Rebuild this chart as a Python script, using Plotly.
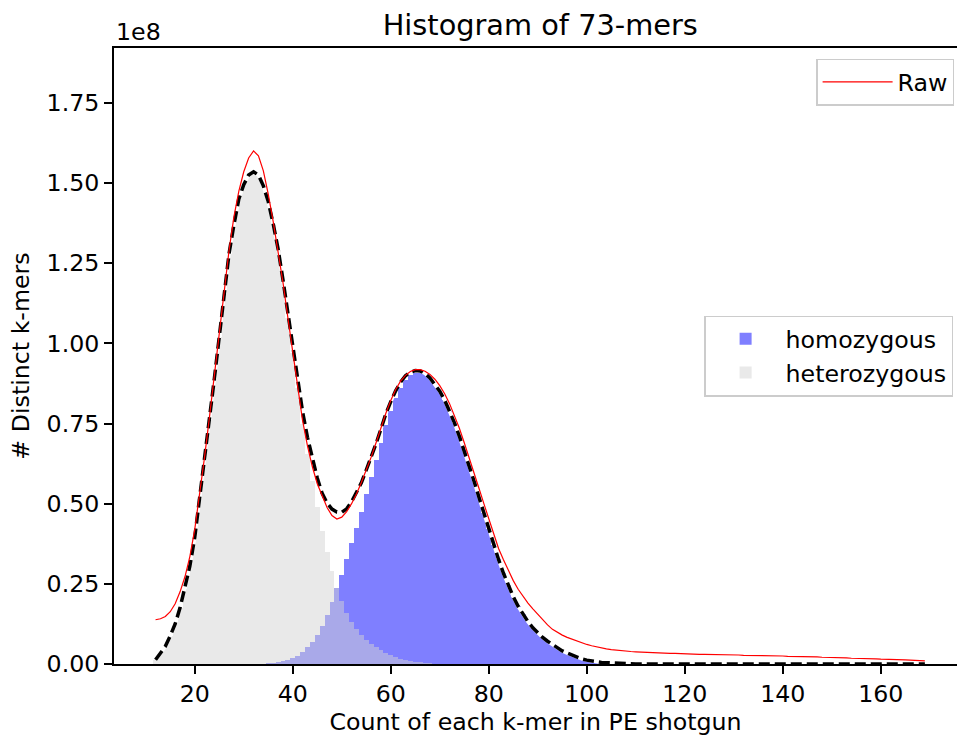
import numpy as np
import plotly.graph_objects as go

# ---------------- data (values in units of 1e8 distinct k-mers) ----------------
COUNTS = list(range(12, 170))          # k-mer multiplicity for the curves
HET_COUNTS = list(range(12, 71))       # bins of the heterozygous histogram
HOM_COUNTS = list(range(34, 109))      # bins of the homozygous histogram

HETEROZYGOUS = [
    0.013, 0.033, 0.055, 0.088, 0.125, 0.175, 0.235, 0.305, 0.395, 0.515,   # 12-21
    0.635, 0.760, 0.890, 1.020, 1.155, 1.280, 1.370, 1.450, 1.495, 1.525,   # 22-31
    1.535, 1.525, 1.490, 1.440, 1.370, 1.290, 1.190, 1.080, 0.970, 0.860,   # 32-41
    0.750, 0.655, 0.570, 0.490, 0.415, 0.350, 0.290, 0.237, 0.195, 0.158,   # 42-51
    0.130, 0.108, 0.090, 0.075, 0.063, 0.052, 0.043, 0.035, 0.028, 0.022,   # 52-61
    0.017, 0.013, 0.010, 0.007, 0.005, 0.003, 0.002, 0.001, 0.0005,         # 62-70
]

HOMOZYGOUS = [
    0.001, 0.002, 0.003, 0.005, 0.008, 0.012, 0.018, 0.026, 0.037, 0.052,   # 34-43
    0.070, 0.090, 0.117, 0.152, 0.193, 0.237, 0.278, 0.326, 0.376, 0.425,   # 44-53
    0.475, 0.530, 0.582, 0.635, 0.690, 0.745, 0.790, 0.830, 0.862, 0.886,   # 54-63
    0.900, 0.908, 0.909, 0.903, 0.890, 0.872, 0.850, 0.823, 0.790, 0.752,   # 64-73
    0.710, 0.665, 0.618, 0.570, 0.520, 0.470, 0.420, 0.372, 0.326, 0.283,   # 74-83
    0.245, 0.210, 0.180, 0.155, 0.132, 0.113, 0.097, 0.083, 0.071, 0.060,   # 84-93
    0.050, 0.041, 0.034, 0.027, 0.021, 0.016, 0.012, 0.009, 0.007, 0.005,   # 94-103
    0.004, 0.003, 0.002, 0.001, 0.001,                                      # 104-108
]

RAW = [
    0.138, 0.141, 0.148, 0.163, 0.188, 0.225, 0.272, 0.335, 0.420, 0.530,   # 12-21
    0.645, 0.770, 0.900, 1.035, 1.165, 1.290, 1.395, 1.475, 1.535, 1.578,   # 22-31
    1.600, 1.585, 1.538, 1.465, 1.380, 1.290, 1.190, 1.080, 0.970, 0.860,   # 32-41
    0.760, 0.680, 0.615, 0.562, 0.522, 0.488, 0.463, 0.452, 0.458, 0.475,   # 42-51
    0.500, 0.530, 0.566, 0.604, 0.645, 0.690, 0.737, 0.782, 0.822, 0.856,   # 52-61
    0.882, 0.900, 0.912, 0.918, 0.918, 0.913, 0.903, 0.888, 0.868, 0.843,   # 62-71
    0.812, 0.775, 0.735, 0.690, 0.640, 0.594, 0.548, 0.500, 0.453, 0.405,   # 72-81
    0.360, 0.325, 0.290, 0.260, 0.233, 0.210, 0.190, 0.172, 0.155, 0.138,   # 82-91
    0.122, 0.108, 0.098, 0.090, 0.083, 0.077, 0.071, 0.066, 0.061, 0.057,   # 92-101
    0.053, 0.050, 0.047, 0.045, 0.043, 0.041, 0.040, 0.039, 0.038, 0.037,   # 102-111
    0.036, 0.035, 0.035, 0.034, 0.034, 0.033, 0.033, 0.032, 0.032, 0.031,   # 112-121
    0.031, 0.030, 0.030, 0.030, 0.029, 0.029, 0.029, 0.028, 0.028, 0.028,   # 122-131
    0.027, 0.027, 0.027, 0.026, 0.026, 0.026, 0.025, 0.025, 0.025, 0.024,   # 132-141
    0.024, 0.024, 0.023, 0.023, 0.022, 0.022, 0.021, 0.021, 0.020, 0.020,   # 142-151
    0.019, 0.019, 0.018, 0.018, 0.017, 0.017, 0.016, 0.016, 0.015, 0.015,   # 152-161
    0.014, 0.014, 0.013, 0.013, 0.012, 0.012, 0.011, 0.010,                 # 162-169
]

X_TICKS = [20, 40, 60, 80, 100, 120, 140, 160]
Y_TICKS = [0.0, 0.25, 0.5, 0.75, 1.0, 1.25, 1.5, 1.75]
Y_TICK_TEXT = ["0.00", "0.25", "0.50", "0.75", "1.00", "1.25", "1.50", "1.75"]

# model curve = heterozygous + homozygous components
model = np.zeros(len(COUNTS))
for c, v in zip(HET_COUNTS, HETEROZYGOUS):
    model[COUNTS.index(c)] += v
for c, v in zip(HOM_COUNTS, HOMOZYGOUS):
    model[COUNTS.index(c)] += v

FONT = "DejaVu Sans"
FS = 23.7

fig = go.Figure()
fig.add_trace(go.Bar(
    x=HOM_COUNTS, y=HOMOZYGOUS, width=1.0, name="homozygous",
    marker=dict(color="rgba(0,0,255,0.5)", line=dict(width=0)),
    legend="legend2",
))
fig.add_trace(go.Bar(
    x=HET_COUNTS, y=HETEROZYGOUS, width=1.0, name="heterozygous",
    marker=dict(color="rgba(211,211,211,0.5)", line=dict(width=0)),
    legend="legend2",
))
fig.add_trace(go.Scatter(
    x=COUNTS, y=model, mode="lines", showlegend=False,
    line=dict(color="white", width=3.5), hoverinfo="skip",
))
fig.add_trace(go.Scatter(
    x=COUNTS, y=model, mode="lines", showlegend=False, name="model",
    line=dict(color="black", width=3.5, dash="11px,5px"),
))
fig.add_trace(go.Scatter(
    x=COUNTS, y=RAW, mode="lines", name="Raw",
    line=dict(color="red", width=1.2), legend="legend",
))

L, R, T, B = 113.5, 0, 48.3, 737 - 664.3
W, H = 957, 737
PW, PH = W - L - R, H - T - B
px_per_unit = 4.903
x_left = 3.52
x_right = x_left + PW / px_per_unit

fig.update_layout(
    width=W, height=H,
    margin=dict(l=L, r=R, t=T, b=B, pad=0, autoexpand=False),
    paper_bgcolor="white", plot_bgcolor="white",
    barmode="overlay", bargap=0,
    font=dict(family=FONT, size=FS, color="black"),
    title=dict(text="Histogram of 73-mers", x=(540 - L) / PW, xref="paper",
               xanchor="center", y=1 - 25 / H, yanchor="middle",
               font=dict(family=FONT, size=28.8, color="black")),
    xaxis=dict(
        range=[x_left, x_right], tickvals=X_TICKS, ticks="outside", ticklen=8,
        tickwidth=1.8, tickcolor="black", showline=True, linewidth=1.8,
        linecolor="black", mirror=True, showgrid=False, zeroline=False,
        automargin=False, tickfont=dict(family=FONT, size=FS),
        title=dict(text="Count of each k-mer in PE shotgun", standoff=6,
                   font=dict(family=FONT, size=FS)),
    ),
    yaxis=dict(
        range=[0, 1.921], tickvals=Y_TICKS, ticktext=Y_TICK_TEXT, ticks="outside",
        ticklen=8, tickwidth=1.8, tickcolor="black", showline=True, linewidth=1.8,
        linecolor="black", mirror=False, showgrid=False, zeroline=False,
        automargin=False, tickfont=dict(family=FONT, size=FS),
        title=dict(text="# Distinct k-mers", standoff=10,
                   font=dict(family=FONT, size=FS)),
    ),
    legend=dict(
        x=(954.3 - L) / PW, xanchor="right", y=(664.3 - 59) / PH, yanchor="top",
        bgcolor="rgba(255,255,255,0.8)", bordercolor="#cccccc", borderwidth=1.3,
        font=dict(family=FONT, size=FS), itemwidth=70,
    ),
    legend2=dict(
        x=(953.3 - L) / PW, xanchor="right", y=0.5, yanchor="middle",
        bgcolor="rgba(255,255,255,0.8)", bordercolor="#cccccc", borderwidth=1.3,
        font=dict(family=FONT, size=FS), itemwidth=70,
    ),
    annotations=[dict(
        text="1e8", xref="paper", yref="paper", x=0, y=1, xanchor="left",
        yanchor="bottom", showarrow=False, yshift=0,
        font=dict(family=FONT, size=FS, color="black"),
    )],
)

fig.write_html(
    "out.html",
    config={"displayModeBar": False},
    post_script="document.body.style.margin='0';document.body.style.overflow='hidden';",
)
